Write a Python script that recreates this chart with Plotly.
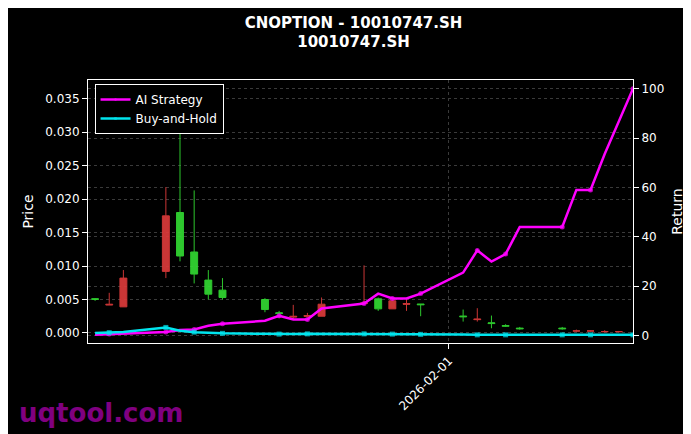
import plotly.graph_objects as go

# datas de negociação
dias = ['2026-01-07', '2026-01-08', '2026-01-09', '2026-01-12', '2026-01-13', '2026-01-14',
        '2026-01-15', '2026-01-16', '2026-01-19', '2026-01-20', '2026-01-21', '2026-01-22',
        '2026-01-23', '2026-01-26', '2026-01-27', '2026-01-28', '2026-01-29', '2026-01-30',
        '2026-02-02', '2026-02-03', '2026-02-04', '2026-02-05', '2026-02-06', '2026-02-09',
        '2026-02-10', '2026-02-11', '2026-02-12', '2026-02-13']
abertura = [0.0050, 0.0043, 0.0082, 0.0175, 0.0115, 0.0088, 0.0058, 0.0053, 0.0035, 0.0029,
            0.0025, 0.0026, 0.0043, 0.0045, 0.0036, 0.0048, 0.0044, 0.0042, 0.0024, 0.0021,
            0.0014, 0.0010, 0.0006, 0.0006, 0.0003, 0.0003, 0.0002, 0.0002]
maxima = [0.0052, 0.0060, 0.0094, 0.0218, 0.0360, 0.0213, 0.0094, 0.0082, 0.0052, 0.0033,
          0.0042, 0.0030, 0.0053, 0.0101, 0.0053, 0.0049, 0.0050, 0.0043, 0.0035, 0.0037,
          0.0026, 0.0013, 0.0009, 0.0009, 0.0005, 0.0004, 0.0004, 0.0003]
minima = [0.0048, 0.0042, 0.0039, 0.0082, 0.0107, 0.0074, 0.0050, 0.0050, 0.0031, 0.0022,
          0.0020, 0.0025, 0.0025, 0.0044, 0.0033, 0.0036, 0.0033, 0.0025, 0.0017, 0.0017,
          0.0007, 0.0009, 0.0005, 0.0005, 0.0002, 0.0002, 0.0001, 0.0001]
fechamento = [0.0051, 0.0042, 0.0039, 0.0092, 0.0180, 0.0121, 0.0079, 0.0064, 0.0050, 0.0030,
              0.0024, 0.0025, 0.0025, 0.0044, 0.0051, 0.0036, 0.0043, 0.0043, 0.0025, 0.0020,
              0.0015, 0.0011, 0.0007, 0.0007, 0.0003, 0.0003, 0.0002, 0.0002]

# retornos (%)
dias_ret = dias + ['2026-02-14']
ret_ia = [0.3, 0.6, 0.9, 1.5, 2.3, 2.5, 4.0, 4.8, 6.0, 8.0, 6.5, 6.5, 11.0, 13.0, 17.0, 15.0,
          15.0, 17.0, 25.5, 34.5, 30.0, 33.0, 44.0, 44.0, 59.0, 59.0, 73.5, 100.0]
ret_bh = [1.0, 1.2, 1.5, 3.3, 2.0, 1.4, 1.0, 0.9, 0.7, 0.6, 0.6, 0.7, 0.7, 0.7, 0.6, 0.6,
          0.6, 0.5, 0.4, 0.3, 0.3, 0.3, 0.3, 0.3, 0.3, 0.3, 0.3, 0.3]
dias_ret = dias[:27] + ['2026-02-14']

tam = [0 if i % 2 == 0 else 5 for i in range(len(dias_ret))]

fig = go.Figure()
fig.add_trace(go.Candlestick(x=dias, open=abertura, high=maxima, low=minima, close=fechamento,
                             increasing=dict(line=dict(color='#33dd33', width=1), fillcolor='#33dd33'),
                             decreasing=dict(line=dict(color='#e03c3c', width=1), fillcolor='#e03c3c'),
                             whiskerwidth=0, showlegend=False, opacity=0.9))
fig.add_trace(go.Scatter(x=dias_ret, y=ret_ia, name='AI Strategy', yaxis='y2',
                         mode='lines+markers', line=dict(color='#ff00ff', width=2.5),
                         marker=dict(size=tam, color='#ff00ff', line=dict(width=0))))
fig.add_trace(go.Scatter(x=dias_ret, y=ret_bh, name='Buy-and-Hold', yaxis='y2',
                         mode='lines+markers', line=dict(color='#00e5ee', width=2.5),
                         marker=dict(size=tam, color='#00e5ee', symbol='square', line=dict(width=0))))

eixo = dict(showline=True, linecolor='white', mirror=True, ticks='outside', tickcolor='white',
            gridcolor='#3a3a3a', griddash='dot', zeroline=False, automargin=False)
fig.update_layout(
    width=691, height=434,
    paper_bgcolor='black', plot_bgcolor='black',
    font=dict(family='DejaVu Sans', color='white', size=12),
    title=dict(text='<b>CNOPTION - 10010747.SH<br>10010747.SH</b>', x=0.5, y=0.955,
               font=dict(size=15)),
    margin=dict(l=80, r=66, t=72, b=99),
    xaxis=dict(eixo, rangeslider=dict(visible=False), range=['2026-01-06 12:00', '2026-02-14'],
               tickvals=['2026-02-01'], ticktext=['2026-02-01'], tickangle=-45),
    yaxis=dict(eixo, title=dict(text='Price', standoff=8), range=[-0.0015, 0.0378],
               tickformat='.3f', dtick=0.005),
    yaxis2=dict(eixo, title=dict(text='Return', standoff=8), overlaying='y', side='right',
                range=[-3.0, 103.5], dtick=20, showgrid=True),
    legend=dict(x=0.012, y=0.985, bgcolor='black', bordercolor='white', borderwidth=1,
                font=dict(size=12)),
)
fig.add_annotation(text='<b>uqtool.com</b>', xref='paper', yref='paper', x=-0.13, y=-0.33,
                   xanchor='left', showarrow=False, font=dict(size=26, color='#800080'))

fig.write_html('out.html')
